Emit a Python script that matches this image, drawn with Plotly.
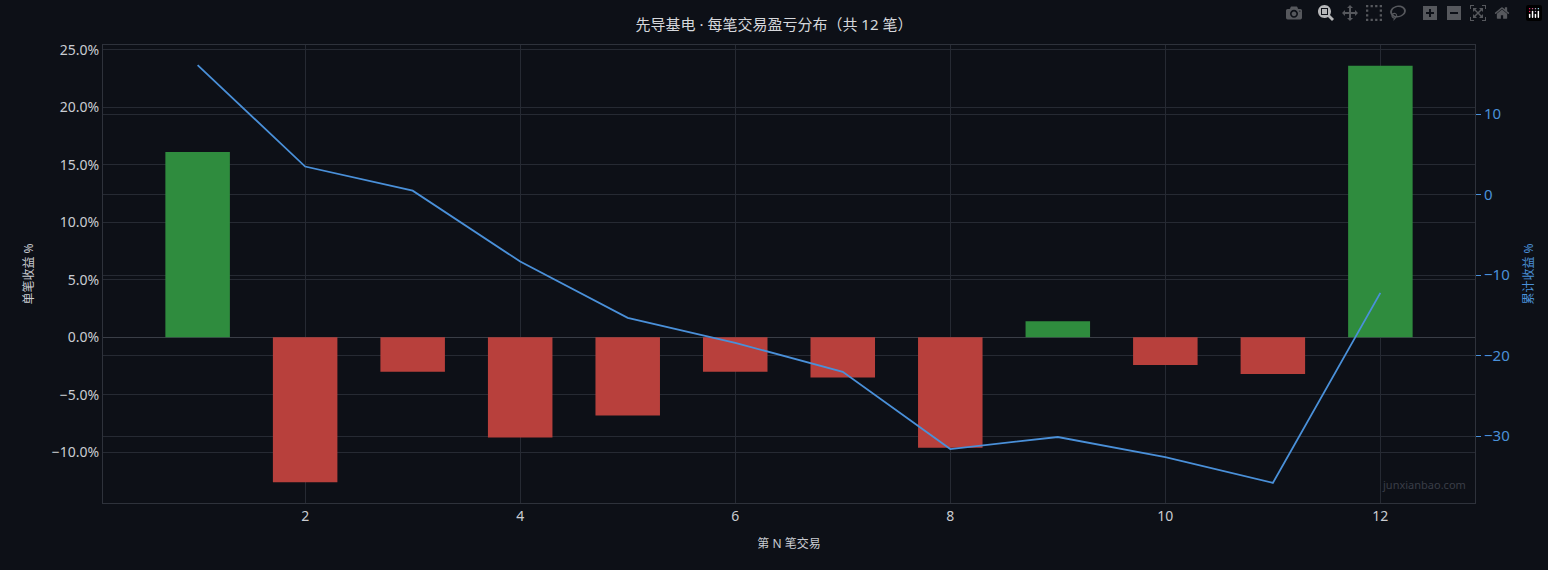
import plotly.graph_objects as go

trades = list(range(1, 13))
pnl_pct = [16.1, -12.6, -3.0, -8.7, -6.8, -3.0, -3.5, -9.6, 1.4, -2.4, -3.2, 23.6]
cum_pct = [16.1, 3.5, 0.5, -8.3, -15.3, -18.4, -22.0, -31.6, -30.1, -32.6, -35.8, -12.2]

colors = ["#2f8c3e" if v >= 0 else "#b8403c" for v in pnl_pct]
font = "Noto Sans, Noto Sans CJK SC, sans-serif"
grid = "#262a33"

fig = go.Figure()
fig.add_trace(go.Bar(x=trades, y=pnl_pct, marker_color=colors, marker_line_width=0,
                     width=0.6, name="单笔收益 %"))
fig.add_trace(go.Scatter(x=trades, y=cum_pct, yaxis="y2", mode="lines",
                         line=dict(color="#4a90d9", width=1.8), name="累计收益 %"))

fig.update_layout(
    width=1548, height=570,
    paper_bgcolor="#0d1017", plot_bgcolor="#0d1017",
    font=dict(family=font, color="#c9ccd2", size=13),
    margin=dict(l=103, r=73, t=45, b=67),
    showlegend=False,
    title=dict(text="先导基电 · 每笔交易盈亏分布（共 12 笔）", x=0.5, y=0.965,
               font=dict(size=15, color="#d6d8dc")),
    xaxis=dict(range=[0.12, 12.88], dtick=2, gridcolor=grid, zeroline=False,
               showline=True, linecolor="#2e323b", mirror=True,
               tickfont=dict(size=14),
               title=dict(text="第 N 笔交易", font=dict(size=12))),
    yaxis=dict(range=[-14.4, 25.4], dtick=5, ticksuffix=".0%", gridcolor=grid,
               zeroline=True, zerolinecolor="#3a3e47", zerolinewidth=1,
               showline=True, linecolor="#2e323b", tickfont=dict(size=14),
               title=dict(text="单笔收益 %", font=dict(size=12))),
    yaxis2=dict(overlaying="y", side="right", range=[-38.3, 18.6], dtick=10,
                gridcolor=grid, zeroline=False, showline=True, linecolor="#2e323b",
                tickfont=dict(color="#4a90d9", size=15), ticks="outside",
                tickcolor="#4a90d9", ticklen=5,
                title=dict(text="累计收益 %", font=dict(size=12, color="#4a90d9"))),
    annotations=[dict(text="junxianbao.com", xref="paper", yref="paper", x=0.995, y=0.02,
                      xanchor="right", yanchor="bottom", showarrow=False,
                      font=dict(size=11, color="#3a3e47"))],
)

fig.write_html("out.html", post_script="document.body.style.margin='0';")
